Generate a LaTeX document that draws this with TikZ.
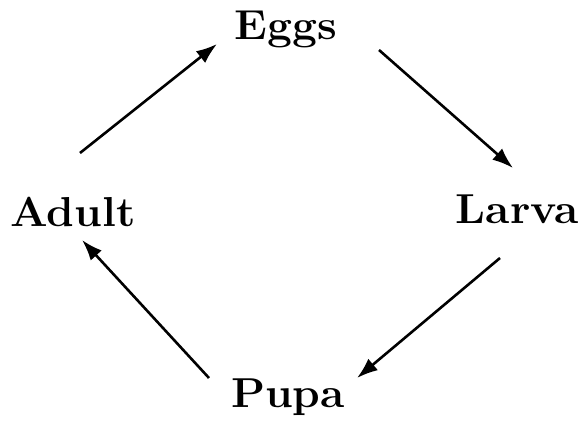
\documentclass[tikz,border=0pt]{standalone}
\usepackage{amsmath,amssymb}
\usepackage{tikz}
\usetikzlibrary{arrows.meta}

\begin{document}
\begin{tikzpicture} [x=0.5bp,y=-0.5bp,
    stage/.style={anchor=base,inner sep=0pt,xscale=1.06,font=\fontsize{21}{24}\selectfont\bfseries},
    cyc/.style={line width=1.3pt,-{Latex[length=10.5pt,width=7.5pt]}}]
            \useasboundingbox (0,0) rectangle (586,421);
            \node[stage] (eggs) at (286,40) {Eggs};
            \node[stage] (larva) at (517,224) {Larva};
            \node[stage] (pupa) at (288,408) {Pupa};
            \node[stage] (adult) at (73,227) {Adult};
            \draw[cyc] ([shift={(7,-74)}]adult.base) -- ([shift={(-69,4)}]eggs.base);
            \draw[cyc] ([shift={(93,10)}]eggs.base) -- ([shift={(-4,-56)}]larva.base);
            \draw[cyc] ([shift={(-17,34)}]larva.base) -- ([shift={(69,-30)}]pupa.base);
            \draw[cyc] ([shift={(-79,-30)}]pupa.base) -- ([shift={(9,13)}]adult.base);
        \end{tikzpicture}
\end{document}
